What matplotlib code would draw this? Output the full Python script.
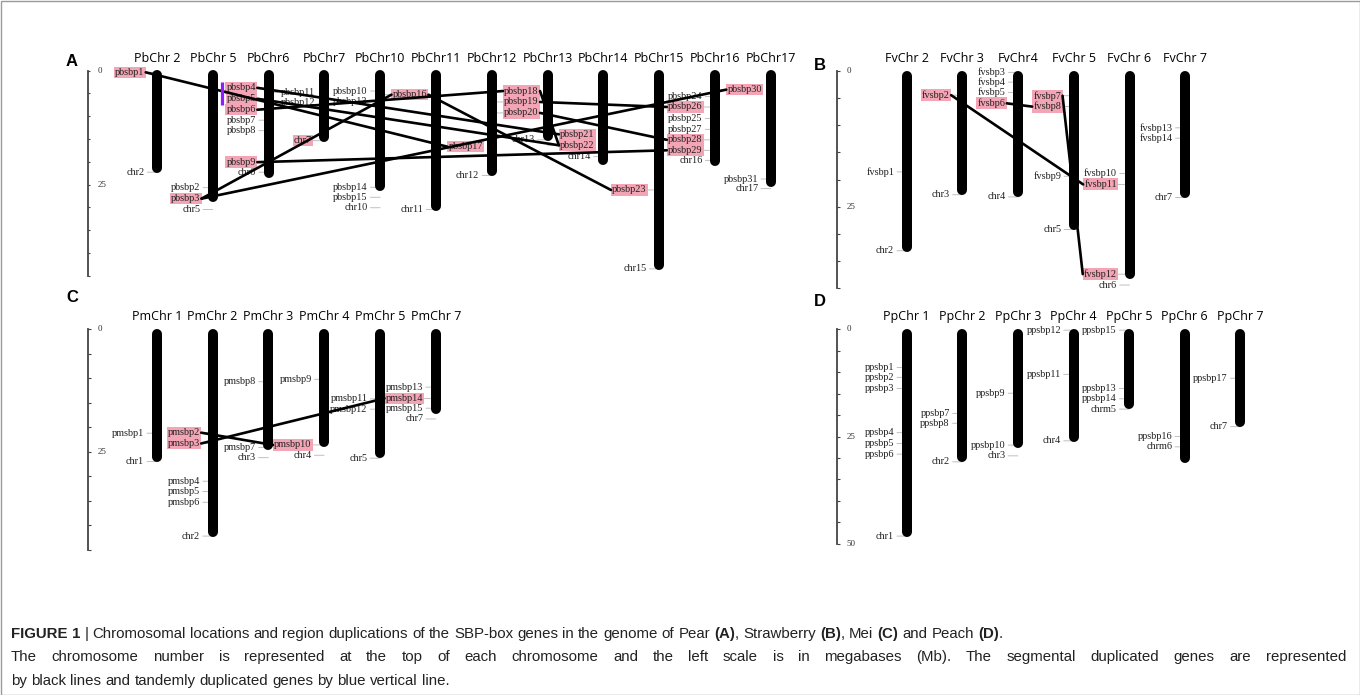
import matplotlib.pyplot as plt
from matplotlib.patches import Rectangle

plt.rcParams['font.family'] = ['Liberation Serif', 'DejaVu Serif']

# ---------------- data (positions in Mb) ----------------
# Panel A - pear
A_chroms = ["PbChr 2", "PbChr 5", "PbChr6", "PbChr7", "PbChr10", "PbChr11",
            "PbChr12", "PbChr13", "PbChr14", "PbChr15", "PbChr16", "PbChr17"]
A_lengths = [22.4, 28.7, 23.5, 15.6, 26.3, 30.7, 23.0, 15.4, 20.6, 43.6, 20.8, 25.4]
# (label, chromosome index, position, duplicated)
A_genes = [
    ("pbsbp1", 0, 0.4, 1), ("chr2", 0, 22.3, 0),
    ("pbsbp2", 1, 25.7, 0), ("pbsbp3", 1, 28.1, 1), ("chr5", 1, 30.5, 0),
    ("pbsbp4", 2, 3.8, 1), ("pbsbp5", 2, 6.2, 1), ("pbsbp6", 2, 8.6, 1),
    ("pbsbp7", 2, 10.9, 0), ("pbsbp8", 2, 13.2, 0), ("pbsbp9", 2, 20.1, 1),
    ("chr6", 2, 22.3, 0), ("pbsbp11", 2, 4.8, 0), ("pbsbp12", 2, 7.0, 0),
    ("chr7", 3, 15.4, 1),
    ("pbsbp10", 4, 4.5, 0), ("pbsbp13", 4, 6.7, 0), ("pbsbp16", 4, 5.3, 1),
    ("pbsbp14", 4, 25.6, 0), ("pbsbp15", 4, 27.8, 0), ("chr10", 4, 30.1, 0),
    ("pbsbp17", 5, 16.7, 1), ("chr11", 5, 30.5, 0),
    ("pbsbp18", 6, 4.5, 1), ("pbsbp19", 6, 6.9, 1), ("pbsbp20", 6, 9.3, 1),
    ("chr12", 6, 23.0, 0),
    ("pbsbp21", 7, 14.0, 1), ("pbsbp22", 7, 16.4, 1), ("chr13", 7, 15.2, 0),
    ("chr14", 8, 18.9, 0),
    ("pbsbp23", 9, 26.2, 1), ("chr15", 9, 43.5, 0),
    ("pbsbp24", 10, 5.7, 0), ("pbsbp26", 10, 8.0, 1), ("pbsbp25", 10, 10.5, 0),
    ("pbsbp27", 10, 12.9, 0), ("pbsbp28", 10, 15.2, 1), ("pbsbp29", 10, 17.5, 1),
    ("chr16", 10, 19.7, 0), ("pbsbp30", 10, 4.2, 1),
    ("pbsbp31", 11, 23.8, 0), ("chr17", 11, 25.9, 0),
]
A_right = {"pbsbp11", "pbsbp12", "pbsbp16", "pbsbp17", "pbsbp18", "pbsbp19",
           "pbsbp20", "pbsbp21", "pbsbp22", "pbsbp30"}
A_links = [("pbsbp1", "pbsbp17"), ("pbsbp3", "pbsbp16"), ("pbsbp3", "pbsbp30"),
           ("pbsbp4", "pbsbp21"), ("pbsbp5", "pbsbp22"), ("pbsbp6", "pbsbp18"),
           ("pbsbp9", "pbsbp29"), ("pbsbp16", "pbsbp23"), ("pbsbp18", "pbsbp22"),
           ("pbsbp19", "pbsbp26"), ("pbsbp20", "pbsbp28")]
A_tandem = [("pbsbp4", "pbsbp5")]

# Panel B - strawberry
B_chroms = ["FvChr 2", "FvChr 3", "FvChr4", "FvChr 5", "FvChr 6", "FvChr 7"]
B_lengths = [33.3, 22.8, 23.2, 29.3, 38.2, 23.3]
B_genes = [
    ("fvsbp1", 0, 18.6, 0), ("chr2", 0, 33.1, 0),
    ("fvsbp2", 1, 4.5, 1), ("chr3", 1, 22.8, 0),
    ("fvsbp3", 2, 0.3, 0), ("fvsbp4", 2, 2.1, 0), ("fvsbp5", 2, 4.0, 0),
    ("fvsbp6", 2, 6.0, 1), ("chr4", 2, 23.2, 0),
    ("fvsbp7", 3, 4.6, 1), ("fvsbp8", 3, 6.6, 1), ("fvsbp9", 3, 19.4, 0),
    ("chr5", 3, 29.2, 0),
    ("fvsbp10", 4, 18.9, 0), ("fvsbp11", 4, 20.9, 1), ("fvsbp12", 4, 37.4, 1),
    ("chr6", 4, 39.4, 0),
    ("fvsbp13", 5, 10.5, 0), ("fvsbp14", 5, 12.4, 0), ("chr7", 5, 23.3, 0),
]
B_right = set()
B_links = [("fvsbp2", "fvsbp11"), ("fvsbp6", "fvsbp8"), ("fvsbp7", "fvsbp12")]

# Panel C - mei
C_chroms = ["PmChr 1", "PmChr 2", "PmChr 3", "PmChr 4", "PmChr 5", "PmChr 7"]
C_lengths = [27.0, 42.3, 24.5, 24.0, 26.3, 17.3]
C_genes = [
    ("pmsbp1", 0, 21.2, 0), ("chr1", 0, 27.0, 0),
    ("pmsbp2", 1, 21.1, 1), ("pmsbp3", 1, 23.3, 1), ("pmsbp4", 1, 31.0, 0),
    ("pmsbp5", 1, 33.1, 0), ("pmsbp6", 1, 35.3, 0), ("chr2", 1, 42.2, 0),
    ("pmsbp8", 2, 10.7, 0), ("pmsbp7", 2, 24.1, 0), ("chr3", 2, 26.2, 0),
    ("pmsbp9", 3, 10.2, 0), ("pmsbp10", 3, 23.6, 1), ("chr4", 3, 25.7, 0),
    ("pmsbp11", 4, 14.2, 0), ("pmsbp12", 4, 16.3, 0), ("chr5", 4, 26.3, 0),
    ("pmsbp13", 5, 11.8, 0), ("pmsbp14", 5, 14.1, 1), ("pmsbp15", 5, 16.1, 0),
    ("chr7", 5, 18.3, 0),
]
C_right = set()
C_links = [("pmsbp2", "pmsbp10"), ("pmsbp3", "pmsbp14")]

# Panel D - peach
D_chroms = ["PpChr 1", "PpChr 2", "PpChr 3", "PpChr 4", "PpChr 5", "PpChr 6", "PpChr 7"]
D_lengths = [48.3, 30.9, 27.7, 26.2, 18.6, 31.1, 22.7]
D_genes = [
    ("ppsbp1", 0, 8.9, 0), ("ppsbp2", 0, 11.2, 0), ("ppsbp3", 0, 13.8, 0),
    ("ppsbp4", 0, 24.1, 0), ("ppsbp5", 0, 26.6, 0), ("ppsbp6", 0, 29.1, 0),
    ("chr1", 0, 48.2, 0),
    ("ppsbp7", 1, 19.6, 0), ("ppsbp8", 1, 21.9, 0), ("chr2", 1, 30.9, 0),
    ("ppsbp9", 2, 14.9, 0), ("ppsbp10", 2, 27.0, 0), ("chr3", 2, 29.5, 0),
    ("ppsbp12", 3, 0.2, 0), ("ppsbp11", 3, 10.5, 0), ("chr4", 3, 26.0, 0),
    ("ppsbp15", 4, 0.2, 0), ("ppsbp13", 4, 13.8, 0), ("ppsbp14", 4, 16.2, 0),
    ("chrm5", 4, 18.6, 0),
    ("ppsbp16", 5, 25.0, 0), ("chrm6", 5, 27.4, 0),
    ("ppsbp17", 6, 11.4, 0), ("chr7", 6, 22.7, 0),
]
D_right = set()
D_links = []

caption1 = [("FIGURE 1", "b"), ("|", ""),
            ("Chromosomal locations and region duplications of the SBP-box genes "
             "in the genome of Pear", ""),
            ("(A)", "b"), (",", "g"), ("Strawberry", ""), ("(B)", "b"), (",", "g"),
            ("Mei", ""), ("(C)", "b"), ("and Peach", ""), ("(D)", "b"), (".", "g")]
caption2 = ("The chromosome number is represented at the top of each chromosome and "
            "the left scale is in megabases (Mb). The segmental duplicated genes are represented")
caption3 = "by black lines and tandemly duplicated genes by blue vertical line."

# ---------------- drawing ----------------
W, H = 1360, 695
fig = plt.figure(figsize=(W / 100, H / 100), dpi=100)
PINK = '#f3a5b5'
CAP_SIZE = 10.8


def make_panel(box, x0, dx, y0, ppm):
    left, top, right, bottom = box
    ax = fig.add_axes([left / W, 1 - bottom / H, (right - left) / W, (bottom - top) / H])
    ax.set_xlim((left - x0) / dx, (right - x0) / dx)
    ax.set_ylim((bottom - y0) / ppm, (top - y0) / ppm)
    ax.axis('off')
    return ax


def draw_panel(ax, chroms, lengths, genes, right_side, scale_max, scale_labels, axis_x):
    p = ax.transData.transform([(0, 0), (1, 1)])
    dx, ppm = abs(p[1, 0] - p[0, 0]), abs(p[1, 1] - p[0, 1])
    xa = axis_x
    ax.plot([xa, xa], [0, scale_max], color='#444444', lw=1.3)
    ticks = list(range(0, scale_max + 1, 5))
    ax.hlines(ticks, xa, xa + 3 / dx, color='#444444', lw=0.8)
    for t in scale_labels:
        ax.text(xa + 10 / dx, t, str(t), fontsize=6.5, color='#333333', va='center')
    r = 4.8 / ppm
    for i, (name, L) in enumerate(zip(chroms, lengths)):
        ax.plot([i, i], [r, L - r], color='black', lw=7.2, solid_capstyle='round', zorder=3)
        ax.annotate(name, (i, 0), xytext=(0, 9), textcoords='offset points',
                    ha='center', va='center', fontfamily='Open Sans', fontsize=9)
    labels = {}
    for name, ci, pos, dup in genes:
        right = name in right_side
        t = ax.annotate(name, (ci, pos), xytext=(9 if right else -9, 0),
                        textcoords='offset points', ha='left' if right else 'right',
                        va='center', fontsize=7.4, color='#222222', zorder=2,
                        arrowprops=dict(arrowstyle='-', color='#b5b5b5', lw=0.6,
                                        shrinkA=0, shrinkB=0),
                        bbox=dict(boxstyle='square,pad=0.12', fc=PINK, ec='none') if dup else None)
        labels[name] = (t, ci)
    return labels


def label_ends(ax, item, renderer):
    t, ci = item
    patch = t.get_bbox_patch()
    bb = patch.get_window_extent(renderer) if patch is not None else t.get_window_extent(renderer)
    inv = ax.transData.inverted()
    yc = (bb.y0 + bb.y1) / 2
    (l, y), (rr, _) = inv.transform([(bb.x0, yc), (bb.x1, yc)])
    top, bot = inv.transform([(bb.x0, bb.y1), (bb.x0, bb.y0)])[:, 1]
    return l, rr, y, top, bot


axA = make_panel((40, 35, 800, 290), 157, 55.8, 70.5, 4.56)
axB = make_panel((800, 35, 1355, 295), 906.7, 55.7, 70.7, 5.44)
axC = make_panel((40, 295, 800, 560), 156.7, 55.8, 329.3, 4.9)
axD = make_panel((800, 295, 1355, 560), 906.7, 55.6, 329.3, 4.29)

labA = draw_panel(axA, A_chroms, A_lengths, A_genes, A_right, 45, [0, 25], (87.5 - 157) / 55.8)
labB = draw_panel(axB, B_chroms, B_lengths, B_genes, B_right, 40, [0, 25], (836.5 - 906.7) / 55.7)
labC = draw_panel(axC, C_chroms, C_lengths, C_genes, C_right, 45, [0, 25], (88 - 156.7) / 55.8)
labD = draw_panel(axD, D_chroms, D_lengths, D_genes, D_right, 50, [0, 25, 50], (836.5 - 906.7) / 55.6)

fig.canvas.draw()
renderer = fig.canvas.get_renderer()

for ax, labs, links in [(axA, labA, A_links), (axB, labB, B_links),
                        (axC, labC, C_links), (axD, labD, D_links)]:
    for a, b in links:
        if labs[a][1] > labs[b][1]:
            a, b = b, a
        la, ra, ya, _, _ = label_ends(ax, labs[a], renderer)
        lb, rb, yb, _, _ = label_ends(ax, labs[b], renderer)
        ax.plot([ra, lb], [ya, yb], color='black', lw=1.9, zorder=5,
                solid_capstyle='round')

p = axA.transData.transform([(0, 0), (1, 0)])
dxA = p[1, 0] - p[0, 0]
for a, b in A_tandem:
    la, _, _, topa, _ = label_ends(axA, labA[a], renderer)
    lb, _, _, _, botb = label_ends(axA, labA[b], renderer)
    xt = min(la, lb) - 3 / dxA
    axA.plot([xt, xt], [topa, botb], color='#8f1cff', lw=2.3, zorder=6,
             solid_capstyle='butt')

# panel letters
for letter, (x, y) in zip("ABCD", [(66, 62), (814, 66), (66, 298), (814, 302)]):
    fig.text(x / W, 1 - y / H, letter, fontfamily='Liberation Sans', fontweight='bold',
             fontsize=12, va='center')


# caption, laid out word by word
def measure(s, bold=False):
    t = fig.text(0, 0, s, fontfamily='Liberation Sans', fontsize=CAP_SIZE,
                 fontweight='bold' if bold else 'normal')
    w = t.get_window_extent(renderer).width
    t.remove()
    return w


space = measure("a a") - measure("aa")


def put_tokens(tokens, x, base, right_edge=None):
    widths = [measure(w, b) for w, b, g in tokens]
    gaps = [0 if g or k == 0 else 1 for k, (w, b, g) in enumerate(tokens)]
    gap = space
    if right_edge is not None:
        gap = (right_edge - x - sum(widths)) / sum(gaps)
    for (w, b, g), wd, gp in zip(tokens, widths, gaps):
        x += gp * gap
        fig.text(x / W, 1 - base / H, w, fontfamily='Liberation Sans', fontsize=CAP_SIZE,
                 fontweight='bold' if b else 'normal', va='baseline', color='#222222')
        x += wd


tok1 = []
for text, flag in caption1:
    for k, word in enumerate(text.split(' ')):
        tok1.append((word, flag == 'b', flag == 'g' and k == 0))
put_tokens(tok1, 11, 638)
put_tokens([(w, False, False) for w in caption2.split(' ')], 11, 661, right_edge=1346)
put_tokens([(w, False, False) for w in caption3.split(' ')], 11, 685)

fig.patches.append(Rectangle((0.5 / W, 0.5 / H), 1 - 1 / W, 1 - 1 / H, transform=fig.transFigure,
                             fill=False, ec='#9a9a9a', lw=1))

fig.savefig('out.png', dpi=100)
